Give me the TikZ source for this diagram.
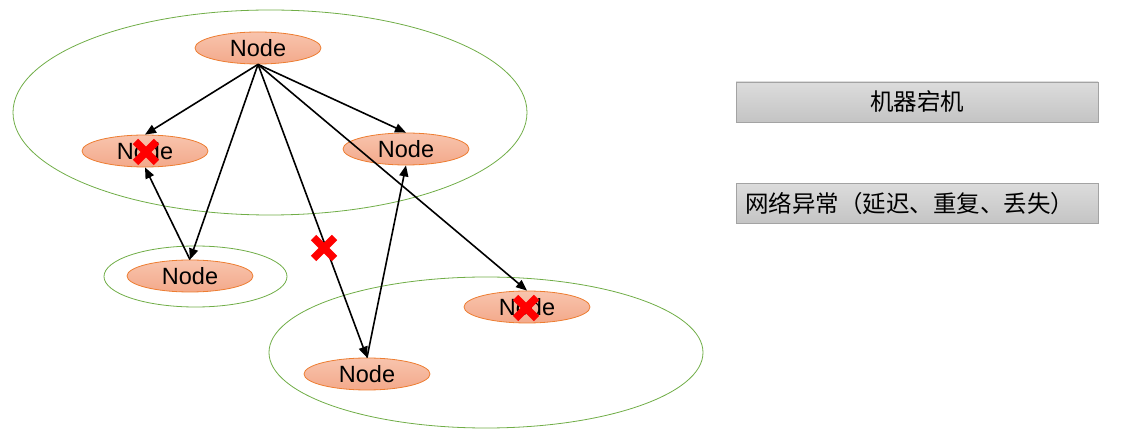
\documentclass[tikz,border=0pt]{standalone}
\usepackage{fontspec}
\setmainfont{Liberation Sans}
\newfontfamily\cjk{Noto Sans CJK SC}
\usetikzlibrary{shapes.geometric,arrows.meta,calc}
\definecolor{nodeborder}{HTML}{ED7D31}
\definecolor{nodetop}{HTML}{F8C4AD}
\definecolor{nodebot}{HTML}{F3A98B}
\definecolor{grp}{HTML}{70AD47}
\definecolor{boxtop}{HTML}{DCDCDC}
\definecolor{boxbot}{HTML}{C4C4C4}
\definecolor{boxborder}{HTML}{A3A3A3}
\definecolor{xred}{HTML}{FF0000}
\tikzset{
  nd/.style={ellipse, draw=nodeborder, line width=0.8pt, top color=nodetop, bottom color=nodebot,
    minimum width=126pt, minimum height=32pt, inner sep=0pt, font=\fontsize{23.5}{25}\selectfont},
  grpell/.style={draw=grp, line width=0.8pt},
  arr/.style={-{Triangle[length=11pt,width=9pt]}, line width=1.6pt, black},
  legend/.style={draw=boxborder, line width=0.8pt, top color=boxtop, bottom color=boxbot,
    minimum width=362pt, minimum height=40pt, inner sep=0pt, font=\cjk\fontsize{23.5}{25}\selectfont},
  xmark/.style={xred, line width=7.5pt},
}
\newcommand{\redx}[1]{%
  \draw[xmark] ($(#1)+(-10.5,-10.5)$) -- ($(#1)+(10.5,10.5)$);
  \draw[xmark] ($(#1)+(-10.5,10.5)$) -- ($(#1)+(10.5,-10.5)$);}
\begin{document}
\begin{tikzpicture}[x=1pt,y=-1pt]
\useasboundingbox (0,0) rectangle (1138,443);
% group ellipses
\draw[grpell] (270,112.5) ellipse [x radius=257, y radius=102.5];
\draw[grpell] (195.5,276.5) ellipse [x radius=91.5, y radius=30.5];
\draw[grpell] (486,352.5) ellipse [x radius=217, y radius=75.5];
% nodes
\node[nd] (top) at (258,48) {Node};
\node[nd] (lm) at (145,151) {Node};
\node[nd] (rm) at (406,149) {Node};
\node[nd] (bl) at (190,276) {Node};
\node[nd] (rb) at (527,307) {Node};
\node[nd] (bot) at (367,374) {Node};
% arrows
\draw[arr] (top.south) -- (lm.north);
\draw[arr] (top.south) -- (bl.north);
\draw[arr] (top.south) -- (bot.north);
\draw[arr] (top.south) -- (rm.north);
\draw[arr] (top.south) -- (rb.north);
\draw[arr] (bl.north) -- (lm.south);
\draw[arr] (bot.north) -- (rm.south);
% red crosses
\coordinate (x1) at (146,152);
\coordinate (x2) at (526,308);
\coordinate (x3) at (324,248);
\redx{x1}
\redx{x2}
\redx{x3}
% legend
\node[legend] (crash) at (917,102) {机器宕机};
\node[legend, text width=346pt, align=left] (net) at (917,203.5) {\hspace*{1pt}网络异常（延迟、重复、丢失）};
\end{tikzpicture}
\end{document}
